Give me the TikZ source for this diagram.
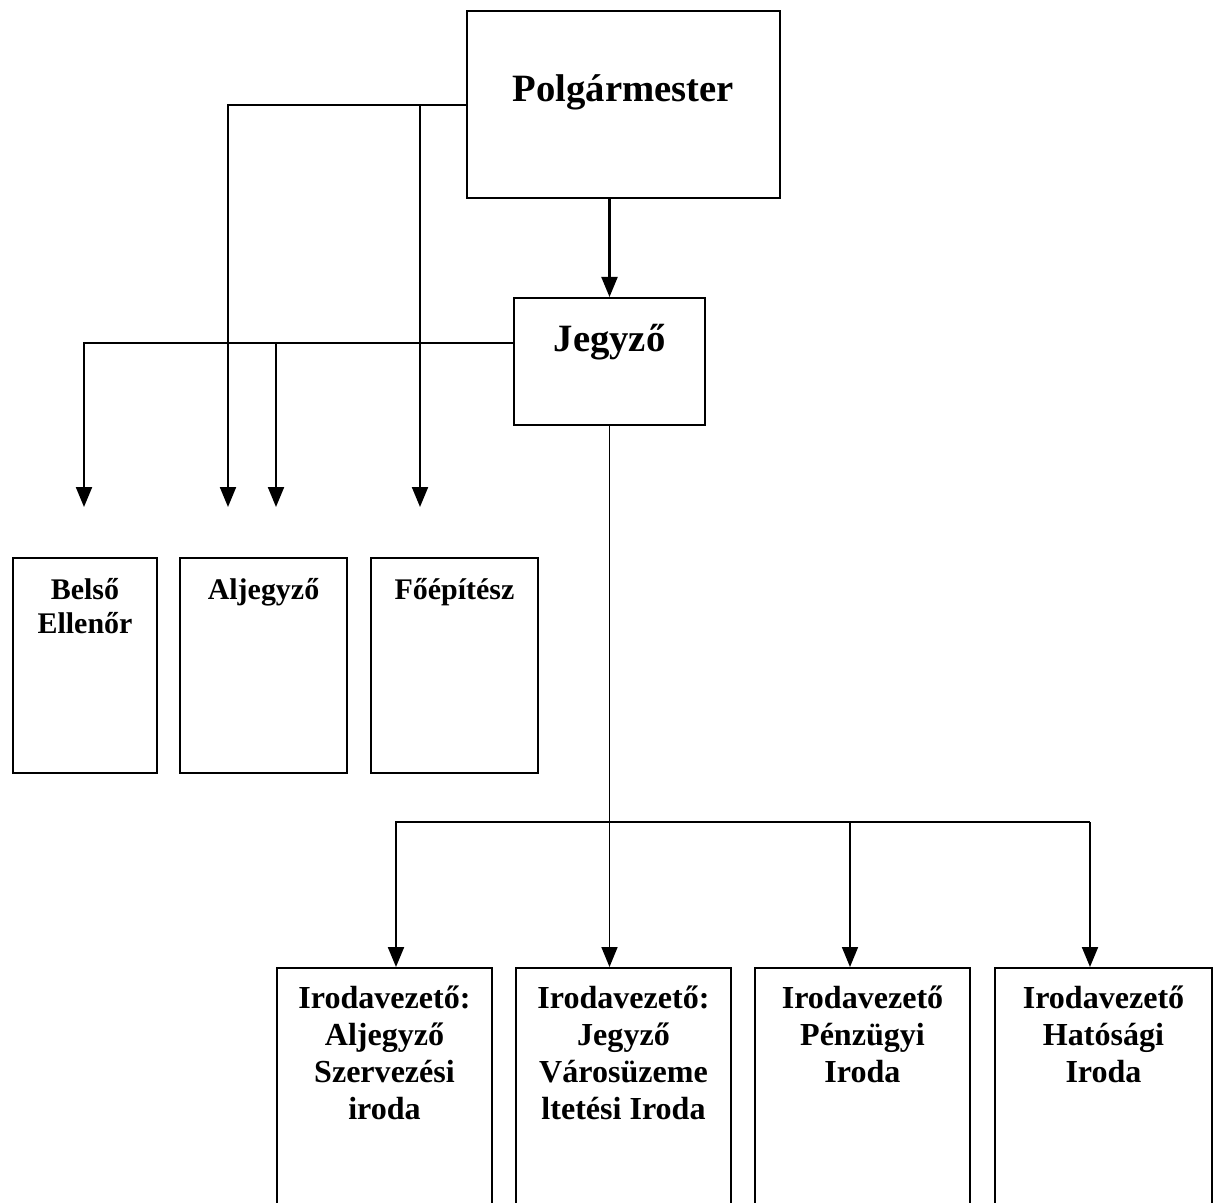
\documentclass[tikz,border=0pt]{standalone}
\usepackage{fontspec}
\setmainfont{Liberation Serif}
\usetikzlibrary{arrows.meta}

\begin{document}
\begin{tikzpicture}[x=0.025cm, y=0.025cm,
    box/.style={draw=black, line width=1.7pt, align=center, anchor=north},
    topbox/.style={box, font=\bfseries\fontsize{27.5}{32}\selectfont},
    midbox/.style={box, font=\bfseries\fontsize{21.3}{24.2}\selectfont},
    lowbox/.style={box, font=\bfseries\fontsize{22.8}{26.3}\selectfont},
    lowfour/.style={lowbox, text height=3.775cm, text depth=2.8cm},
    lowthree/.style={lowbox, text height=2.85cm, text depth=3.725cm},
    link/.style={black, line width=1.5pt},
    arrowdown/.style={link, -{Triangle[width=0.4cm,length=0.5cm]}}]
    \tikzstyle{every node}+=[inner sep=0pt]
    \useasboundingbox (0,0) rectangle (1217,-1203);
    \clip (0,0) rectangle (1217,-1203);
    \draw (623.5,-10) node [topbox, minimum width=7.825cm, text height=2.25cm, text depth=2.425cm] (polg) {Polgármester};
    \draw (609.5,-297) node [topbox, minimum width=4.775cm, text height=1.32cm, text depth=1.855cm] (jeg) {Jegyző};
    \draw (85,-557) node [midbox, minimum width=3.6cm, text height=1.875cm, text depth=3.5cm] (belso) {Belső\\Ellenőr};
    \draw (263.5,-557) node [midbox, minimum width=4.175cm, text height=1.025cm, text depth=4.35cm] (aljeg) {Aljegyző};
    \draw (454.5,-557) node [midbox, minimum width=4.175cm, text height=1.025cm, text depth=4.35cm] (foep) {Főépítész};
    \draw (384.5,-967) node [lowfour, minimum width=5.375cm] (iro1) {Irodavezető:\\Aljegyző\\Szervezési\\iroda};
    \draw (623.5,-967) node [lowfour, minimum width=5.375cm] (iro2) {Irodavezető:\\Jegyző\\Városüzeme\\ltetési Iroda};
    \draw (862.5,-967) node [lowthree, minimum width=5.375cm] (iro3) {Irodavezető\\Pénzügyi\\Iroda};
    \draw (1103.5,-967) node [lowthree, minimum width=5.425cm] (iro4) {Irodavezető\\Hatósági\\Iroda};
    \coordinate (p1) at (228,-507);
    \coordinate (p2) at (420,-507);
    \coordinate (j1) at (84,-507);
    \coordinate (j2) at (276,-507);
    \coordinate (jw) at ([yshift=-1.15cm]jeg.north west);
    \coordinate (d1) at (396,-822);
    \coordinate (d3) at (850,-822);
    \coordinate (d4) at (1090,-822);
    \draw [arrowdown] (jeg.north |- polg.south) -- (jeg.north);
    \draw [arrowdown] (polg.west) -| (p1);
    \draw [arrowdown] (polg.west -| p2) -- (p2);
    \draw [arrowdown] (jw) -| (j1);
    \draw [arrowdown] (jw -| j2) -- (j2);
    \draw [arrowdown, line width=1.2pt] (jeg.south) -- (jeg.south |- iro2.north);
    \draw [arrowdown] (d4) -- (d1) -- (d1 |- iro1.north);
    \draw [arrowdown, line width=1.2pt] (d3) -- (d3 |- iro3.north);
    \draw [arrowdown] (d4) -- (d4 |- iro4.north);
\end{tikzpicture}
\end{document}
